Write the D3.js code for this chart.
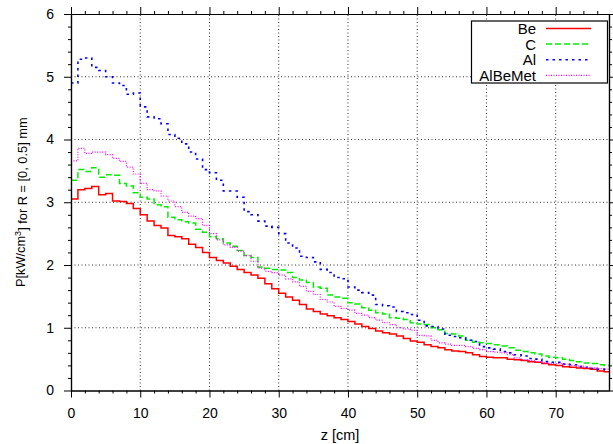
<!DOCTYPE html>
<html>
<head>
<meta charset="utf-8">
<script src="https://cdn.jsdelivr.net/npm/d3@7"></script>
<style>
  body { margin: 0; background: #fff; }
  svg { font-family: "Liberation Sans", Arial, sans-serif; }
</style>
</head>
<body>
<div class="chart"></div>
<script>
// bin width along z [cm]; each series holds one value per bin, starting at z = 0
const binWidth = 1;

const be = [3.05,3.2,3.22,3.25,3.12,3.14,3.02,3.01,2.98,2.9,
  2.8,2.7,2.63,2.59,2.47,2.45,2.42,2.33,2.28,2.2,
  2.12,2.07,2.03,1.98,1.93,1.88,1.84,1.79,1.7,1.62,
  1.55,1.49,1.44,1.37,1.3,1.26,1.22,1.19,1.16,1.13,
  1.1,1.06,1.02,0.99,0.95,0.92,0.9,0.87,0.83,0.79,
  0.77,0.73,0.7,0.68,0.65,0.63,0.62,0.6,0.57,0.54,
  0.53,0.52,0.52,0.5,0.49,0.48,0.46,0.45,0.43,0.41,
  0.4,0.38,0.37,0.36,0.35,0.34,0.31,0.3];

const c = [3.35,3.52,3.49,3.55,3.4,3.44,3.43,3.3,3.26,3.15,
  3.08,3.05,2.96,2.93,2.76,2.72,2.69,2.67,2.57,2.52,
  2.45,2.42,2.35,2.3,2.23,2.15,2.12,1.97,1.95,1.93,
  1.92,1.88,1.8,1.76,1.72,1.65,1.63,1.52,1.49,1.47,
  1.4,1.38,1.32,1.28,1.24,1.22,1.16,1.15,1.13,1.08,
  1.06,1.05,1.0,0.97,0.91,0.9,0.87,0.8,0.77,0.76,
  0.75,0.73,0.71,0.68,0.64,0.62,0.6,0.58,0.55,0.53,
  0.52,0.5,0.48,0.46,0.44,0.43,0.41,0.4];

const al = [4.9,5.28,5.3,5.15,5.1,5.0,4.9,4.86,4.72,4.74,
  4.52,4.36,4.33,4.25,4.08,4.02,3.93,3.8,3.69,3.52,
  3.47,3.35,3.18,3.18,3.08,2.85,2.8,2.7,2.62,2.6,
  2.5,2.35,2.27,2.14,2.12,2.05,1.93,1.88,1.8,1.78,
  1.65,1.6,1.56,1.52,1.37,1.35,1.33,1.26,1.24,1.21,
  1.12,1.03,1.02,0.98,0.88,0.86,0.84,0.8,0.78,0.7,
  0.68,0.66,0.62,0.6,0.57,0.55,0.51,0.5,0.46,0.45,
  0.45,0.42,0.41,0.38,0.37,0.35,0.34,0.33];

const alBeMet = [3.66,3.86,3.78,3.8,3.8,3.76,3.7,3.65,3.56,3.45,
  3.3,3.2,3.18,3.1,3.02,2.93,2.84,2.78,2.74,2.63,
  2.5,2.4,2.32,2.28,2.22,2.15,2.06,1.95,1.9,1.88,
  1.84,1.78,1.73,1.66,1.58,1.53,1.45,1.41,1.34,1.31,
  1.28,1.23,1.2,1.16,1.12,1.08,1.05,1.0,0.98,0.96,
  0.88,0.87,0.8,0.76,0.74,0.72,0.72,0.7,0.67,0.65,
  0.62,0.61,0.6,0.57,0.52,0.49,0.48,0.46,0.44,0.43,
  0.43,0.42,0.4,0.39,0.37,0.36,0.35,0.34];

const seriesNames = ["Be", "C", "Al", "AlBeMet"];
const xTicks = [0, 10, 20, 30, 40, 50, 60, 70];
const xMinor = [2,4,6,8,12,14,16,18,22,24,26,28,32,34,36,38,42,44,46,48,52,54,56,58,62,64,66,68,72,74,76];
const yTicks = [0, 1, 2, 3, 4, 5, 6];
const yMinor = [0.2,0.4,0.6,0.8,1.2,1.4,1.6,1.8,2.2,2.4,2.6,2.8,3.2,3.4,3.6,3.8,4.2,4.4,4.6,4.8,5.2,5.4,5.6,5.8];

const w = 613;
const h = 444;
const margin = { top: 14, right: 4, bottom: 53.5, left: 71 };

const styles = [
  { color: "#ff0000", dash: null, width: 1.5 },
  { color: "#00ee00", dash: "6,3", width: 1.5 },
  { color: "#0000ff", dash: "2.5,4", width: 1.6 },
  { color: "#ff00ff", dash: "1,1.5", width: 1.2 }
];

const drawChart = () => {
  const series = [be, c, al, alBeMet];

  const x = d3.scaleLinear().domain([0, 77.7]).range([margin.left, w - margin.right]);
  const y = d3.scaleLinear().domain([0, 6]).range([h - margin.bottom, margin.top]);

  const svg = d3.select(".chart")
    .append("svg")
    .attr("width", w)
    .attr("height", h)
    .attr("viewBox", [0, 0, w, h]);

  svg.append("clipPath").attr("id", "plot")
    .append("rect")
    .attr("x", x(0)).attr("y", y(6))
    .attr("width", x(77.7) - x(0)).attr("height", y(0) - y(6));

  // dotted grid
  const grid = svg.append("g")
    .attr("stroke", "#333")
    .attr("stroke-width", 1)
    .attr("stroke-dasharray", "1,2.5");
  grid.selectAll(".gx").data(xTicks.filter(d => d > 0)).join("line")
    .attr("x1", d => x(d)).attr("x2", d => x(d))
    .attr("y1", y(0)).attr("y2", y(6));
  grid.selectAll(".gy").data(yTicks.filter(d => d > 0 && d < 6)).join("line")
    .attr("x1", x(0)).attr("x2", x(77.7))
    .attr("y1", d => y(d)).attr("y2", d => y(d));

  // step curves
  const line = d3.line()
    .x(d => x(d[0]))
    .y(d => y(d[1]))
    .curve(d3.curveStepAfter);

  series.forEach((vals, i) => {
    const pts = vals.map((v, j) => [j * binWidth, v]);
    pts.push([vals.length * binWidth, vals[vals.length - 1]]);
    svg.append("path")
      .attr("clip-path", "url(#plot)")
      .attr("d", line(pts))
      .attr("fill", "none")
      .attr("stroke", styles[i].color)
      .attr("stroke-width", styles[i].width)
      .attr("stroke-dasharray", styles[i].dash);
  });

  // axes: outward ticks on all four sides
  const tickFont = g => g.selectAll("text").attr("font-size", 14).attr("fill", "#000")
    .attr("font-family", "'Liberation Sans', Arial, sans-serif");

  svg.append("g").attr("transform", `translate(0,${y(0)})`)
    .call(d3.axisBottom(x).tickValues(xTicks).tickFormat(d3.format("d"))
      .tickSize(7).tickPadding(11).tickSizeOuter(0))
    .call(tickFont);
  svg.append("g").attr("transform", `translate(0,${y(0)})`)
    .call(d3.axisBottom(x).tickValues(xMinor).tickSize(3).tickFormat("").tickSizeOuter(0));
  svg.append("g").attr("transform", `translate(0,${y(6)})`)
    .call(d3.axisTop(x).tickValues(xTicks).tickSize(7).tickFormat("").tickSizeOuter(0));
  svg.append("g").attr("transform", `translate(0,${y(6)})`)
    .call(d3.axisTop(x).tickValues(xMinor).tickSize(3).tickFormat("").tickSizeOuter(0));

  svg.append("g").attr("transform", `translate(${x(0)},0)`)
    .call(d3.axisLeft(y).tickValues(yTicks).tickFormat(d3.format("d"))
      .tickSize(7).tickPadding(10).tickSizeOuter(0))
    .call(tickFont);
  svg.append("g").attr("transform", `translate(${x(0)},0)`)
    .call(d3.axisLeft(y).tickValues(yMinor).tickSize(3).tickFormat("").tickSizeOuter(0));
  svg.append("g").attr("transform", `translate(${x(77.7)},0)`)
    .call(d3.axisRight(y).tickValues(yTicks).tickSize(7).tickFormat("").tickSizeOuter(0));
  svg.append("g").attr("transform", `translate(${x(77.7)},0)`)
    .call(d3.axisRight(y).tickValues(yMinor).tickSize(3).tickFormat("").tickSizeOuter(0));

  svg.selectAll(".domain").attr("stroke", "#000").attr("stroke-width", 1.2);

  // legend
  const key = svg.append("g");
  key.append("rect")
    .attr("x", 471.5).attr("y", 21)
    .attr("width", 136).attr("height", 62)
    .attr("fill", "#fff").attr("stroke", "#000").attr("stroke-width", 1.2);
  seriesNames.forEach((name, i) => {
    const yy = 28.5 + i * 15.6;
    key.append("text")
      .attr("x", 536).attr("y", yy).attr("dy", "0.36em")
      .attr("text-anchor", "end").attr("font-size", 15)
      .text(name);
    key.append("line")
      .attr("x1", 546).attr("x2", 591)
      .attr("y1", yy).attr("y2", yy)
      .attr("stroke", styles[i].color)
      .attr("stroke-width", styles[i].width)
      .attr("stroke-dasharray", styles[i].dash);
  });

  // axis labels
  svg.append("text")
    .attr("x", (x(0) + x(77.7)) / 2).attr("y", 440)
    .attr("text-anchor", "middle").attr("font-size", 14.5)
    .text("z [cm]");

  const yl = svg.append("text")
    .attr("transform", `translate(25,${(y(0) + y(6)) / 2}) rotate(-90)`)
    .attr("text-anchor", "middle").attr("font-size", 12.8);
  yl.append("tspan").text("P[kW/cm");
  yl.append("tspan").attr("dy", "-0.45em").attr("font-size", 9).text("3");
  yl.append("tspan").attr("dy", "0.45em").text("] for R = [0, 0.5] mm");
};

drawChart();
</script>
</body>
</html>
